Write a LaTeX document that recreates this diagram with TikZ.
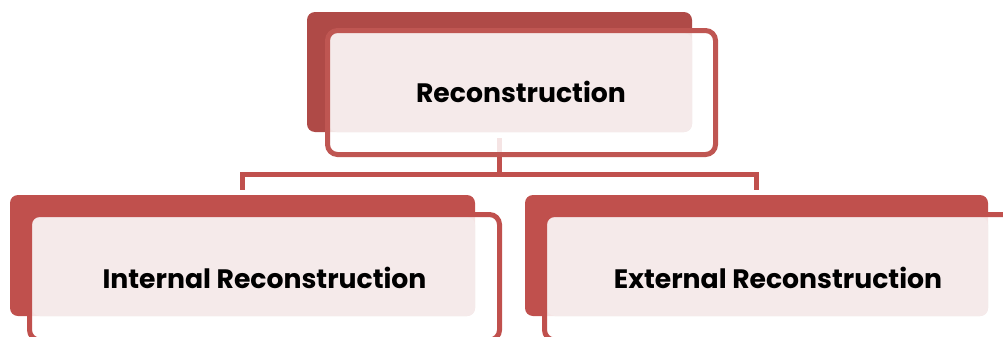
\documentclass[tikz,border=0pt]{standalone}
\usepackage{fontspec}
\setmainfont{Poppins}
\definecolor{rootred}{HTML}{AF4A47}
\definecolor{boxred}{HTML}{C0504D}
\definecolor{framered}{HTML}{BF5652}
\definecolor{blush}{HTML}{F5EAEA}
\tikzset{
  backbox/.style={draw=none, fill=boxred, rounded corners=6pt, inner sep=0pt},
  blushpanel/.style={fill=blush, rounded corners=6pt},
  framebox/.style={draw=framered, line width=3.75pt, rounded corners=7.5pt},
  framewash/.style={fill=white, fill opacity=0.85, rounded corners=7.5pt},
  conn/.style={draw=boxred, line width=3.75pt},
  label/.style={font=\bfseries\fontsize{20}{24}\selectfont, text=black, inner sep=0pt}
}
\begin{document}
\begin{tikzpicture}[x=0.75pt,y=-0.75pt]
\useasboundingbox (0,0) rectangle (1003,336);
\clip (0,0) rectangle (1003,336);

% back panels (named so the connectors can attach to them)
\node[backbox, fill=rootred, minimum width=288.75pt, minimum height=90pt] (rootback) at (499.5,72) {};
\node[backbox, minimum width=348.75pt, minimum height=90.75pt] (intback) at (242.5,255.5) {};
\node[backbox, minimum width=347.25pt, minimum height=90.75pt] (extback) at (756.5,255.5) {};

% hierarchy connectors
\coordinate (hub) at (499.5,174.5);
\draw[conn, shorten <=4.5pt] (rootback.south) -- (hub);
\draw[conn, shorten >=3.75pt] (hub) -| (intback.north);
\draw[conn, shorten >=3.75pt] (hub) -| (extback.north);

% root card
\fill[framewash] (327.5,30.5) rectangle (715.5,154.5);
\fill[blushpanel] (329,33) rectangle (692,132);
\draw[framebox] (327.5,30.5) rectangle (715.5,154.5);
\node[label] (root) at (521,92) {Reconstruction};

% internal card
\fill[framewash] (29.5,214.5) rectangle (499.5,340);
\fill[blushpanel] (32,217) rectangle (475,316);
\draw[framebox, draw=boxred] (29.5,214.5) rectangle (499.5,340);
\node[label] (internal) at (264.5,278) {Internal Reconstruction};

% external card
\fill[framewash] (544.5,214.5) rectangle (1015,340);
\fill[blushpanel] (547,217) rectangle (988,316);
\draw[framebox, draw=boxred] (544.5,214.5) rectangle (1015,340);
\node[label] (external) at (778,278) {External Reconstruction};
\end{tikzpicture}
\end{document}
